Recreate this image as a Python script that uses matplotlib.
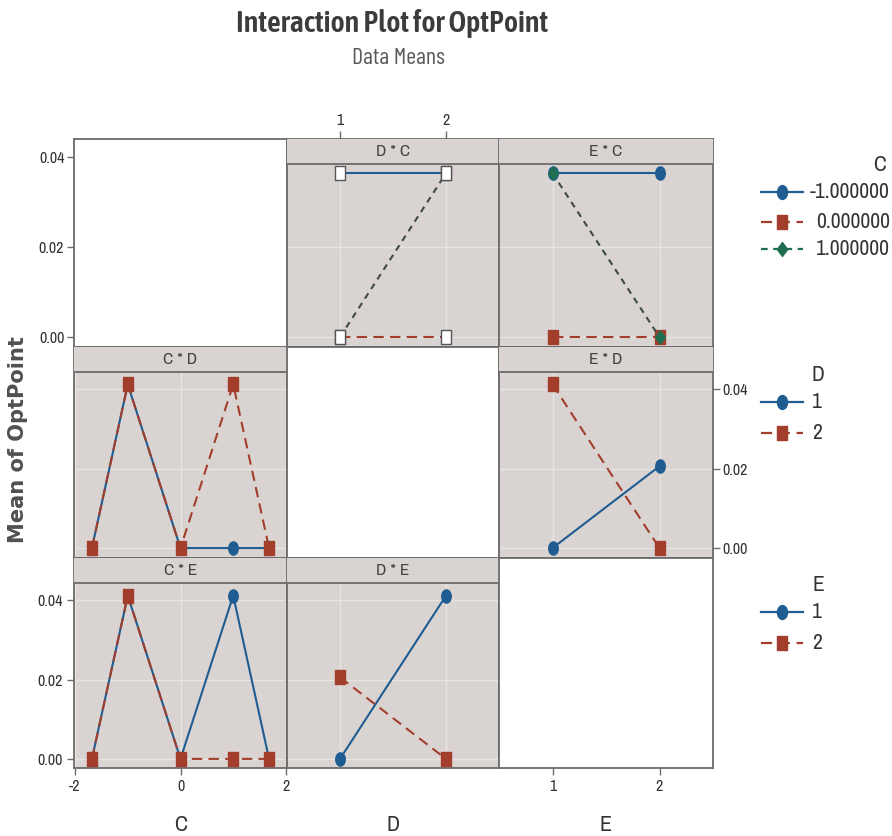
"""Minitab-style interaction plot matrix for OptPoint (data means)."""

import matplotlib

matplotlib.use("Agg")
import matplotlib.pyplot as plt
from matplotlib.lines import Line2D
from matplotlib.patches import Rectangle
from matplotlib.path import Path
import numpy as np

# factor levels
C_LEVELS = [-1.68, -1.0, 0.0, 1.0, 1.68]
D_LEVELS = [1, 2]
E_LEVELS = [1, 2]

# row 1: traces by C
DC_C_NEG = [0.0364, 0.0364]
DC_C_ZERO = [0.0, 0.0]
DC_C_POS = [0.0, 0.0364]
EC_C_NEG = [0.0364, 0.0364]
EC_C_ZERO = [0.0, 0.0]
EC_C_POS = [0.0364, 0.0]

# row 2: traces by D
CD_D1 = [0.0, 0.0412, 0.0, 0.0, 0.0]
CD_D2 = [0.0, 0.0412, 0.0, 0.0412, 0.0]
ED_D1 = [0.0, 0.0206]
ED_D2 = [0.0412, 0.0]

# row 3: traces by E
CE_E1 = [0.0, 0.0412, 0.0, 0.0412, 0.0]
CE_E2 = [0.0, 0.0412, 0.0, 0.0, 0.0]
DE_E1 = [0.0, 0.0412]
DE_E2 = [0.0206, 0.0]

Y_TICKS = [0.0, 0.02, 0.04]
C_TICKS = [-2, 0, 2]
LEVEL_TICKS = [1, 2]
FACTORS = ["C", "D", "E"]
C_LEGEND = ["-1.000000", "0.000000", "1.000000"]
D_LEGEND = ["1", "2"]
E_LEGEND = ["1", "2"]

W, H = 892, 836
X_EDGES = [74, 287, 499, 713]
Y_EDGES = [139, 347, 558, 768]
ROW_YLIM = [(-0.0022, 0.0440), (-0.0025, 0.0506), (-0.0023, 0.0507)]
COL_XLIM = [(-2.02, 2.02), (0.5, 2.5), (0.5, 2.5)]
STRIP_PX = 25

BLUE = "#1f5c91"
RED = "#a23e2b"
GREEN = "#1f6e50"
DIAG = "#3e4a45"
PANEL_BG = "#d9d4d2"
FRAME = "#6b6b6b"
GRID = "#e7e4e2"
TEXT = "#333333"

NARROW = ["Archivo Narrow", "DejaVu Sans"]
HEAD = ["Asap Condensed", "DejaVu Sans"]
SUB = ["Barlow Condensed", "Asap Condensed", "DejaVu Sans"]
plt.rcParams["font.family"] = NARROW
plt.rcParams["font.stretch"] = "condensed"

circle = Path.unit_circle()
ELLIPSE = Path(circle.vertices * np.array([0.72, 1.0]), circle.codes)
RECT = Path([(-0.72, -1), (0.72, -1), (0.72, 1), (-0.72, 1), (-0.72, -1)], closed=True)
DIAMOND = Path([(0, 1), (0.75, 0), (0, -1), (-0.75, 0), (0, 1)], closed=True)

STYLES = {
    "blue": dict(color=BLUE, linestyle="-", marker=ELLIPSE, mfc=BLUE, mec=BLUE),
    "red": dict(color=RED, linestyle=(0, (5, 3)), marker=RECT, mfc=RED, mec=RED),
    "green": dict(color=DIAG, linestyle=(0, (3, 2.5)), marker=DIAMOND, mfc=GREEN, mec=GREEN),
}
WHITE_MARK = dict(marker=RECT, mfc="white", mec="#555555", mew=1.0)

PANELS = {
    (0, 1): ("D * C", D_LEVELS, [(DC_C_NEG, "blue"), (DC_C_ZERO, "red"), (DC_C_POS, "green")], True),
    (0, 2): ("E * C", E_LEVELS, [(EC_C_NEG, "blue"), (EC_C_ZERO, "red"), (EC_C_POS, "green")], False),
    (1, 0): ("C * D", C_LEVELS, [(CD_D1, "blue"), (CD_D2, "red")], False),
    (1, 2): ("E * D", E_LEVELS, [(ED_D1, "blue"), (ED_D2, "red")], False),
    (2, 0): ("C * E", C_LEVELS, [(CE_E1, "blue"), (CE_E2, "red")], False),
    (2, 1): ("D * E", D_LEVELS, [(DE_E1, "blue"), (DE_E2, "red")], False),
}


def fig_rect(r, c):
    x0, x1 = X_EDGES[c], X_EDGES[c + 1]
    y0, y1 = Y_EDGES[r], Y_EDGES[r + 1]
    return [x0 / W, 1 - y1 / H, (x1 - x0) / W, (y1 - y0) / H]


def fit_length(txt, target_px):
    # scale a text so its long side spans target_px, whatever font got picked
    box = txt.get_window_extent(fig.canvas.get_renderer())
    txt.set_fontsize(txt.get_fontsize() * target_px / max(box.width, box.height))


fig = plt.figure(figsize=(W / 100, H / 100), dpi=100)

for r in range(3):
    for c in range(3):
        ax = fig.add_axes(fig_rect(r, c))
        ax.set_xlim(*COL_XLIM[c])
        ax.set_ylim(*ROW_YLIM[r])
        xt = C_TICKS if c == 0 else LEVEL_TICKS
        ax.set_yticks(Y_TICKS)
        ax.set_xticks(xt)
        ax.set_yticklabels([f"{v:.2f}" for v in Y_TICKS])
        ax.set_xticklabels([f"{v:g}" for v in xt])
        for spine in ax.spines.values():
            spine.set_color(FRAME)
            spine.set_linewidth(1.3)
        ax.tick_params(
            direction="out", length=5, width=1, color=FRAME, labelsize=11.5,
            labelcolor=TEXT, pad=2,
            left=False, labelleft=False, right=False, labelright=False,
            bottom=False, labelbottom=False, top=False, labeltop=False,
        )
        # axis placement as in the Minitab matrix
        if (r, c) in [(0, 0), (2, 0)]:
            ax.tick_params(left=True, labelleft=True)
        if (r, c) == (1, 2):
            ax.tick_params(right=True, labelright=True)
        if (r, c) in [(2, 0), (2, 2)]:
            ax.tick_params(bottom=True, labelbottom=True, pad=3)
        if (r, c) == (0, 1):
            ax.tick_params(top=True, labeltop=True, length=6, pad=2)

        if r == c:
            ax.set_facecolor("white")
            continue

        ax.set_facecolor(PANEL_BG)
        ax.set_axisbelow(True)
        ax.grid(True, color=GRID, linewidth=1.0)

        label, xs, series, white = PANELS[(r, c)]
        for ys, key in series:
            style = dict(STYLES[key])
            if white:
                style.update(WHITE_MARK)
            ax.plot(xs, ys, linewidth=1.5, markersize=9.5, zorder=3, **style)

        s = STRIP_PX / (Y_EDGES[r + 1] - Y_EDGES[r])
        ax.add_patch(Rectangle((0, 1 - s), 1, s, transform=ax.transAxes,
                               facecolor=PANEL_BG, edgecolor="none", zorder=4))
        ax.add_line(Line2D([0, 1], [1 - s, 1 - s], transform=ax.transAxes,
                           color=FRAME, linewidth=1.3, zorder=5))
        ax.text(0.5, 1 - s / 2, label, transform=ax.transAxes, ha="center",
                va="center", fontsize=12.5, color="#444444", zorder=6)

# overlay in pixel units for titles and legends
ov = fig.add_axes([0, 0, 1, 1], zorder=10)
ov.set_xlim(0, W)
ov.set_ylim(H, 0)
ov.axis("off")

title = ov.text(392, 24, "Interaction Plot for OptPoint", ha="center", va="center",
                fontsize=20, fontweight="semibold", color="#3c3c3c", family=HEAD)
subtitle = ov.text(398, 59, "Data Means", ha="center", va="center", fontsize=16,
                   color="#5a5a5a", family=SUB)
ylabel = ov.text(18, 440, "Mean of OptPoint", rotation=90, ha="center", va="center",
                 fontsize=15, fontweight="bold", color="#505050",
                 family=["DejaVu Sans"], stretch="normal")
fit_length(title, 312)
fit_length(subtitle, 93)
fit_length(ylabel, 208)

for c, name in enumerate(FACTORS):
    ov.text((X_EDGES[c] + X_EDGES[c + 1]) / 2, 825, name, ha="center", va="center",
            fontsize=16, color=TEXT)


def legend_entry(y, key, label, x_text, ha="left"):
    style = STYLES[key]
    ov.plot([761, 803], [y, y], color=GREEN if key == "green" else style["color"],
            linestyle=style["linestyle"], linewidth=1.6)
    ov.plot([782], [y], linestyle="none", marker=style["marker"], mfc=style["mfc"],
            mec=style["mec"], markersize=10)
    ov.text(x_text, y, label, ha=ha, va="center", fontsize=15.5, color=TEXT)


ov.text(880, 165, "C", ha="center", va="center", fontsize=15.5, color=TEXT)
for y, key, label in zip([192, 222, 249], ["blue", "red", "green"], C_LEGEND):
    legend_entry(y, key, label, 890, ha="right")

ov.text(818, 375, "D", ha="center", va="center", fontsize=15.5, color=TEXT)
for y, key, label in zip([402, 433], ["blue", "red"], D_LEGEND):
    legend_entry(y, key, label, 812)

ov.text(818, 585, "E", ha="center", va="center", fontsize=15.5, color=TEXT)
for y, key, label in zip([612, 643], ["blue", "red"], E_LEGEND):
    legend_entry(y, key, label, 812)

fig.savefig("out.png", dpi=100, facecolor="white")
